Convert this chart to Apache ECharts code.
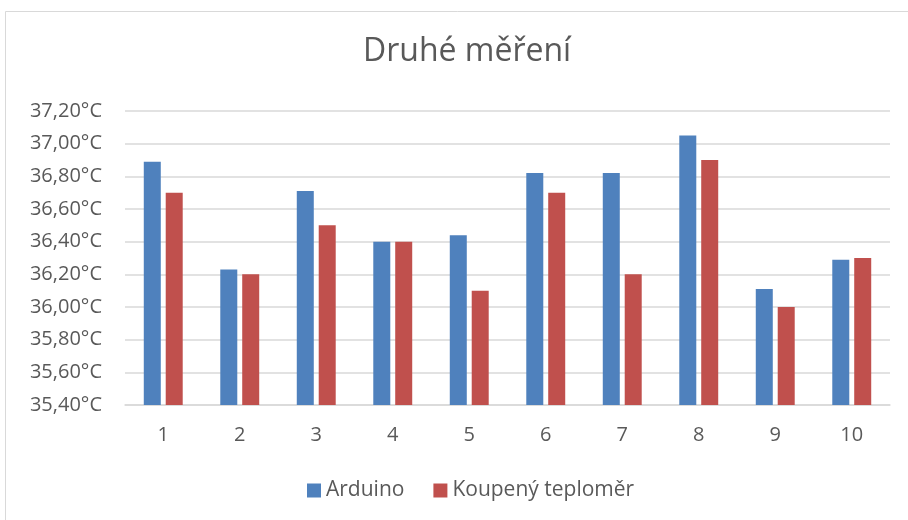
<!DOCTYPE html>
<html>
<head>
<meta charset="utf-8">
<script src="https://cdn.jsdelivr.net/npm/echarts@6/dist/echarts.min.js"></script>
<style>
html,body{margin:0;padding:0;background:#fff;}
#chart{width:908px;height:520px;}
</style>
</head>
<body>
<div id="chart"></div>
<script>
const categories = ['1','2','3','4','5','6','7','8','9','10'];
const arduino = [36.89, 36.23, 36.71, 36.40, 36.44, 36.82, 36.82, 37.05, 36.11, 36.29];
const koupeny = [36.70, 36.20, 36.50, 36.40, 36.10, 36.70, 36.20, 36.90, 36.00, 36.30];
const seriesNames = ['Arduino', 'Koupený teploměr'];
const titleText = 'Druhé měření';

const font = '"Open Sans", "Noto Sans", sans-serif';
const textColor = '#595959';
const chart = echarts.init(document.getElementById('chart'), null, {renderer: 'canvas'});
chart.setOption({
  animation: false,
  backgroundColor: '#fff',
  graphic: [{
    type: 'rect', left: 5, top: 11, z: -10,
    shape: {width: 1000, height: 600},
    style: {fill: '#fff', stroke: '#d9d9d9', lineWidth: 1}
  }],
  title: {
    text: titleText, left: 358, top: 31,
    textStyle: {fontFamily: font, fontSize: 32, fontWeight: 'normal', color: textColor}
  },
  legend: {
    data: seriesNames, bottom: 14, left: 302,
    itemWidth: 14, itemHeight: 14, itemGap: 29,
    icon: 'rect',
    textStyle: {fontFamily: font, fontSize: 21, color: textColor}
  },
  grid: {left: 125, right: 18, top: 111, bottom: 115, containLabel: false},
  xAxis: {
    type: 'category', data: categories,
    axisLine: {lineStyle: {color: '#d9d9d9', width: 1.5}},
    axisTick: {show: false},
    axisLabel: {fontFamily: font, fontSize: 20, color: textColor, margin: 20}
  },
  yAxis: {
    type: 'value', min: 35.4, max: 37.2, interval: 0.2,
    axisLine: {show: false}, axisTick: {show: false},
    splitLine: {lineStyle: {color: '#d9d9d9', width: 1.5}},
    axisLabel: {
      fontFamily: font, fontSize: 20, color: textColor, margin: 23,
      formatter: v => v.toFixed(2).replace('.', ',') + '°C'
    }
  },
  series: [
    {name: seriesNames[0], type: 'bar', data: arduino, barWidth: 17, barGap: '29%',
     itemStyle: {color: '#4F81BD'}},
    {name: seriesNames[1], type: 'bar', data: koupeny, barWidth: 17, barGap: '29%',
     itemStyle: {color: '#C0504D'}}
  ]
});
</script>
</body>
</html>
